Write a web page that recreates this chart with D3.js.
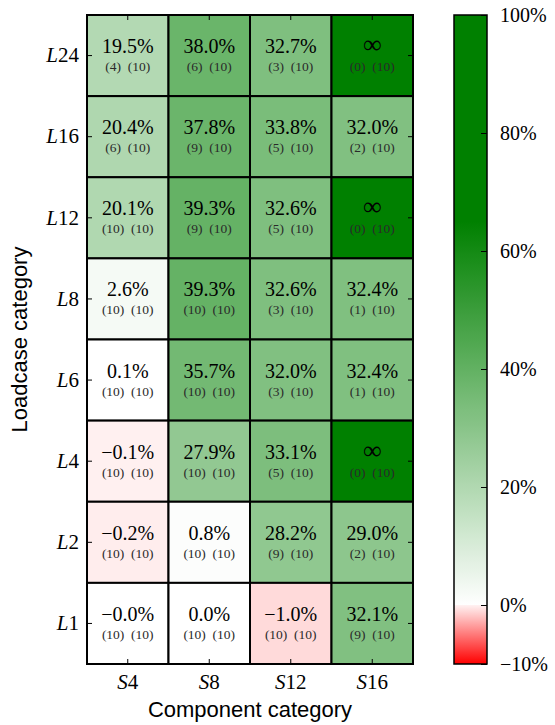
<!DOCTYPE html>
<html lang="en">
<head>
    <meta charset="UTF-8"/>
    <title>Heatmap</title>
    <style>
        body { margin: 0; background: #fff; }
        svg { display: block; }
        .tick text { font-family: "Liberation Serif", serif; fill: #000; }
        .axis-title { font-family: "Liberation Sans", Arial, sans-serif; font-size: 22px; }
    </style>
</head>
<body>
<svg width="555" height="725"></svg>
<script src="https://d3js.org/d3.v7.min.js"></script>
<script>
    const components = ["S4", "S8", "S12", "S16"];
    const loadcases = ["L24", "L16", "L12", "L8", "L6", "L4", "L2", "L1"];

    // null = infinite (no converged runs)
    const values = [
        [19.5, 38.0, 32.7, null],
        [20.4, 37.8, 33.8, 32.0],
        [20.1, 39.3, 32.6, null],
        [2.6, 39.3, 32.6, 32.4],
        [0.1, 35.7, 32.0, 32.4],
        [-0.1, 27.9, 33.1, null],
        [-0.2, 0.8, 28.2, 29.0],
        [-0.0, 0.0, -1.0, 32.1]
    ];
    const counts = [
        [4, 6, 3, 0],
        [6, 9, 5, 2],
        [10, 9, 5, 0],
        [10, 10, 3, 1],
        [10, 10, 3, 1],
        [10, 10, 5, 0],
        [10, 10, 9, 2],
        [10, 10, 10, 9]
    ];
    const totals = [
        [10, 10, 10, 10],
        [10, 10, 10, 10],
        [10, 10, 10, 10],
        [10, 10, 10, 10],
        [10, 10, 10, 10],
        [10, 10, 10, 10],
        [10, 10, 10, 10],
        [10, 10, 10, 10]
    ];
    const colorbarTicks = [-10, 0, 20, 40, 60, 80, 100];

    const svg = d3.select("svg");
    const mLeft = 87, mRight = 413, mTop = 15, mBottom = 664;
    const cbLeft = 454, cbRight = 487;

    const x = d3.scaleBand().domain(components).range([mLeft, mRight]);
    const y = d3.scaleBand().domain(loadcases).range([mTop, mBottom]);
    const cbY = d3.scaleLinear().domain([-10, 100]).range([mBottom, mTop]);

    const redScale = d3.scaleLinear().domain([-10, 0]).range(["#ff0000", "#fff2f2"]).clamp(true);
    const greenScale = d3.scaleLinear().domain([0, 65]).range(["#ffffff", "#008000"]).clamp(true);

    function color(v) {
        if (v === null) return greenScale(100);
        if (v < 0) return redScale(v);
        return greenScale(v);
    }

    function fmt(v) {
        if (v === null) return "\u221e";
        const neg = v < 0 || Object.is(v, -0);
        return (neg ? "\u2212" : "") + Math.abs(v).toFixed(1) + "%";
    }

    const cells = [];
    loadcases.forEach((l, i) => components.forEach((c, j) => {
        cells.push({l, c, v: values[i][j], n: counts[i][j], t: totals[i][j]});
    }));

    const g = svg.append("g");
    g.selectAll("rect")
        .data(cells)
        .enter()
        .append("rect")
        .attr("x", d => x(d.c))
        .attr("y", d => y(d.l))
        .attr("width", x.bandwidth())
        .attr("height", y.bandwidth())
        .attr("fill", d => color(d.v))
        .attr("stroke", "#000")
        .attr("stroke-width", 2);

    g.selectAll("text.main")
        .data(cells)
        .enter()
        .append("text")
        .attr("class", "main")
        .attr("x", d => x(d.c) + x.bandwidth() / 2)
        .attr("y", d => y(d.l) + y.bandwidth() / 2 - 2.5)
        .attr("text-anchor", "middle")
        .attr("font-family", "Liberation Serif, serif")
        .attr("font-size", d => d.v === null ? 26 : 20)
        .text(d => fmt(d.v));

    g.selectAll("text.sub")
        .data(cells)
        .enter()
        .append("text")
        .attr("class", "sub")
        .attr("x", d => x(d.c) + x.bandwidth() / 2)
        .attr("y", d => y(d.l) + y.bandwidth() / 2 + 15.5)
        .attr("text-anchor", "middle")
        .attr("font-family", "Liberation Serif, serif")
        .attr("font-size", 13.5)
        .attr("fill", "#2a2a2a")
        .attr("xml:space", "preserve")
        .text(d => "(" + d.n + ")  (" + d.t + ")");

    function mathLabel(sel) {
        sel.each(function (d) {
            const t = d3.select(this);
            t.text(null);
            t.append("tspan").attr("font-style", "italic").text(d[0]);
            t.append("tspan").text(d.slice(1));
        });
    }

    const tick = 5;
    const leftAxis = svg.append("g")
        .attr("transform", `translate(${mLeft},0)`)
        .call(d3.axisLeft(y).tickSize(-tick).tickPadding(8));
    leftAxis.selectAll(".tick text").attr("font-size", 21).call(mathLabel);

    const bottomAxis = svg.append("g")
        .attr("transform", `translate(0,${mBottom})`)
        .call(d3.axisBottom(x).tickSize(-tick).tickPadding(10));
    bottomAxis.selectAll(".tick text").attr("font-size", 21).call(mathLabel);

    svg.append("g")
        .attr("transform", `translate(0,${mTop})`)
        .call(d3.axisTop(x).tickSize(-tick).tickFormat(""));
    svg.append("g")
        .attr("transform", `translate(${mRight},0)`)
        .call(d3.axisRight(y).tickSize(-tick).tickFormat(""));

    svg.selectAll(".domain").remove();
    svg.selectAll(".tick line").attr("stroke", "#000").attr("stroke-width", 1);

    // colorbar
    const grad = svg.append("defs").append("linearGradient")
        .attr("id", "cb")
        .attr("x1", 0).attr("y1", 1).attr("x2", 0).attr("y2", 0);
    const stops = [];
    d3.range(-10, 0.01, 0.5).forEach(v => stops.push({v, c: redScale(v)}));
    d3.range(0, 100.01, 1).forEach(v => stops.push({v, c: greenScale(v)}));
    grad.selectAll("stop")
        .data(stops)
        .enter()
        .append("stop")
        .attr("offset", d => (d.v + 10) / 110)
        .attr("stop-color", d => d.c);

    svg.append("rect")
        .attr("x", cbLeft)
        .attr("y", mTop)
        .attr("width", cbRight - cbLeft)
        .attr("height", mBottom - mTop)
        .attr("fill", "url(#cb)")
        .attr("stroke", "#000")
        .attr("stroke-width", 1.5);

    const cbAxis = svg.append("g")
        .attr("transform", `translate(${cbRight},0)`)
        .call(d3.axisRight(cbY).tickValues(colorbarTicks).tickSize(-6).tickPadding(13)
            .tickFormat(d => (d < 0 ? "\u2212" + Math.abs(d) : d) + "%"));
    cbAxis.select(".domain").remove();
    cbAxis.selectAll(".tick line").attr("stroke", "#000");
    cbAxis.selectAll(".tick text").attr("font-size", 20);

    svg.append("text")
        .attr("class", "axis-title")
        .attr("x", (mLeft + mRight) / 2)
        .attr("y", 717)
        .attr("text-anchor", "middle")
        .text("Component category");

    svg.append("text")
        .attr("class", "axis-title")
        .attr("transform", `translate(27,${(mTop + mBottom) / 2}) rotate(-90)`)
        .attr("text-anchor", "middle")
        .text("Loadcase category");
</script>
</body>
</html>
